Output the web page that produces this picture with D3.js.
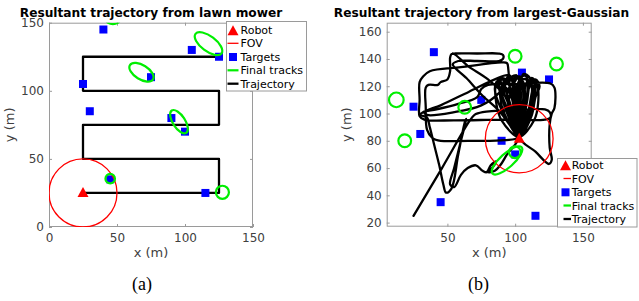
<!DOCTYPE html>
<html><head><meta charset="utf-8">
<script src="https://cdn.jsdelivr.net/npm/d3@7"></script>
<style>body{margin:0;background:#fff}svg{display:block}text{font-family:"DejaVu Sans",sans-serif}</style>
</head><body>
<svg id="c" width="639" height="301"></svg>
<script>
// ---------- data ----------
const targets = [[40,145],[105,130],[125,125],[75,110],[25,105],[30,85],[90,80],[100,70],[45,35],[115,25]];
const legendLabels = ["Robot","FOV","Targets","Final tracks","Trajectory"];
const leftTitle = "Resultant trajectory from lawn mower";
const rightTitle = "Resultant trajectory from largest-Gaussian";
const leftXTicks = [0,50,100,150];
const leftYTicks = [0,50,100,150];
const rightXTicks = [50,100,150];
const rightYTicks = [20,40,60,80,100,120,140,160];
const fovRadius = 25;

// (a) lawn mower
const lawnRobot = [25,25];
const lawnTrajectory = [[25,25],[125,25],[125,50],[25,50],[25,75],[125,75],[125,100],[25,100],[25,125],[125,125]];
// tracks: [cx, cy, semi-major, semi-minor, angle(deg)]
const lawnTracks = [[47,152,5,3,0],[117.3,134.6,12,5.5,-37],[68,113.6,10,5.2,-32],[95.6,77.3,9.8,4.5,-57],[45,35.5,3.5,3.5,0],[127.5,25.5,4.8,4.8,0]];

// (b) largest-Gaussian
const gaussRobot = [103,81.5];
const gaussTracks = [[100,142,4.7,4.7,0],[130.5,136.3,4.7,4.7,0],[12.3,110,5.4,5.4,0],[62.8,104.6,4.7,4.7,0],[18.5,80,4.7,4.7,0],[99.8,71.6,4.3,4.3,0],[94,65.6,14.5,5,42]];
const gaussTrajectory = [
 [25,25],[46,60],[66,94],[70,99],[76,101],
 [100,102.5],[122,103],[125.5,101],[126,97],[122,95.5],
 [90,95.5],[55,95],[33,95.5],[29.5,98],
 [29.5,110],[29.5,123],[32,127],[37,131],
 [60,134],[90,137.5],[94,137],[95,132],
 [96,120],[100,100],[103,83],
 [92,108],[88,120],[91,126],[95,122],[103,83],
 [98,110],[96,124],[101,128],[104,119],[103,83],
 [107,105],[108,122],[113,125],[114,116],[103,83],
 [90,95],[86,108],[86,122],[90,126],[94,115],[103,83],
 [114,95],[117,108],[116,122],[112,126],[109,112],[103,83],
 [92,80.5],[65,80],[45,80],[39,82],[35,88],
 [34,105],[34,119],[36,121],[43,121],[45,123],[50,125],
 [52,131],[52,141],[53,143.5],[56,144],[72,144],[88,144],[91,143],[91,140],[88,138.5],[72,138.5],[58,138.5],[54,136],
 [64,126],[76,113],[88,102],[103,83],
 [94,104],[90,114],[87,123],[90,127],[93,118],[103,83],
 [95,98],[91,110],[92,122],[96,128],[99,118],[103,83],
 [100,106],[99,125],[104,127],[106,112],[103,83],
 [108,96],[112,110],[111,126],[106,129],[104,115],[103,83],
 [110,103],[113,118],[116,124],[117,118],[103,83],
 [115,72],[125,63],[127,66],[125.5,75],[125.5,92],[127,100],[129,104],[129,119],[126,122],
 [100,121.5],[80,121],[75,118],[72,112],
 [58,107],[42,103],[32,101],[30,99],[35,97],
 [37,90],[40,78],[44,62],[47,48],[49,42],[53,45],
 [58,70],[63,94],[64,96],
 [60,80],[55,60],[52,48],[55,46],
 [60,55],[65,60],[71,62],[76,58],[79,57],[82,62],[86,65],[83,60],[80,57],[85,58],[89,62],[94,70],[103,83],
 [96,105],[92,115],[93,125],[97,127],[100,115],[103,83],
 [98,95],[95,104],[97,116],[100,122],[102,108],[103,83],
 [104,108],[102,122],[107,128],[110,122],[103,83],
 [106,100],[109,115],[108,125],[104,124],[103,83],
 [99,120],[95,128],[85,125],[66,116],[45,106],[33,101],[35,99],[55,101],[75,106],[88,115],[95,125],[100,128],[106,123],[103,83],
 [92,100],[89,112],[90,120],[95,117],[103,83],
 [89,105],[85,118],[87,124],[92,120],[103,83],
 [112,98],[115,112],[118,120],[115,125],[110,118],[103,83],
 [101,104],[98,118],[102,126],[106,122],[103,83],
 [109,110],[111,124],[115,122],[113,110],[103,83],
 [97,100],[94,112],[97,121],[101,113],[103,83],
 [95,110],[80,125],[65,135],[56,143],[54,144]
];

// ---------- drawing ----------
const svg = d3.select("#c");
const RED="#ff0000", BLUE="#0000ff", GREEN="#00ee00", BOX="#9a9a9a", TXT="#404040";

function panel(cfg){
  const x = d3.scaleLinear(cfg.xd,[cfg.l,cfg.r]);
  const y = d3.scaleLinear(cfg.yd,[cfg.b,cfg.t]);
  const g = svg.append("g");
  const id = "clip"+cfg.key;
  svg.append("clipPath").attr("id",id).append("rect")
    .attr("x",cfg.l).attr("y",cfg.t).attr("width",cfg.r-cfg.l).attr("height",cfg.b-cfg.t);
  const ax = (gen, tr, ticks, lab) => {
    const a = g.append("g").attr("transform",tr).call(gen.tickValues(ticks).tickSizeInner(-3).tickSizeOuter(0).tickPadding(lab?6.5:5).tickFormat(lab?d3.format("d"):""));
    a.select(".domain").remove();
    a.selectAll("line").attr("stroke",BOX);
    a.selectAll("text").attr("fill",TXT).style("font-size","12px").style("font-family","DejaVu Sans");
    return a;
  };
  ax(d3.axisBottom(x),`translate(0,${cfg.b})`,cfg.xt,true);
  ax(d3.axisTop(x),`translate(0,${cfg.t})`,cfg.xt,false);
  const yl = ax(d3.axisLeft(y),`translate(${cfg.l},0)`,cfg.yt,true);
  yl.selectAll("text").attr("x",-5);
  ax(d3.axisRight(y),`translate(${cfg.r},0)`,cfg.yt,false);
  g.append("rect").attr("x",cfg.l+0.5).attr("y",cfg.t+0.5).attr("width",cfg.r-cfg.l-1).attr("height",cfg.b-cfg.t-1)
    .attr("fill","none").attr("stroke",BOX).attr("stroke-width",1);

  const p = g.append("g").attr("clip-path",`url(#${id})`);
  const drawTraj = () => p.append("path").datum(cfg.traj)
      .attr("d", d3.line().x(d=>x(d[0])).y(d=>y(d[1])).curve(cfg.curve))
      .attr("fill","none").attr("stroke","#000").attr("stroke-width",2.3)
      .attr("stroke-linejoin","round").attr("stroke-linecap","round");
  const drawTargets = () => p.selectAll(null).data(targets).join("rect")
      .attr("x",d=>x(d[0])-4).attr("y",d=>y(d[1])-4).attr("width",8).attr("height",8).attr("fill",BLUE);
  if(cfg.targetsFirst){ drawTargets(); drawTraj(); } else { drawTraj(); drawTargets(); }
  p.append("path").attr("d",tri(x(cfg.robot[0]),y(cfg.robot[1])-1,11,10)).attr("fill",RED);
  const kx = Math.abs(x(1)-x(0)), ky = Math.abs(y(1)-y(0));
  p.append("ellipse").attr("cx",x(cfg.robot[0])).attr("cy",y(cfg.robot[1]))
    .attr("rx",fovRadius*kx).attr("ry",fovRadius*ky).attr("fill","none").attr("stroke",RED).attr("stroke-width",1.3);
  p.selectAll(null).data(cfg.tracks).join("ellipse")
    .attr("cx",0).attr("cy",0).attr("rx",d=>d[2]*kx).attr("ry",d=>d[3]*ky)
    .attr("transform",d=>`translate(${x(d[0])},${y(d[1])}) rotate(${-d[4]})`)
    .attr("fill","none").attr("stroke",GREEN).attr("stroke-width",2.2);

  svg.append("text").attr("x",cfg.titleX).attr("y",17).attr("text-anchor","middle")
    .style("font-size","12.2px").style("font-weight","bold").attr("fill","#000").text(cfg.title);
  svg.append("text").attr("x",(cfg.l+cfg.r)/2).attr("y",257).attr("text-anchor","middle")
    .style("font-size","13px").attr("fill",TXT).text("x (m)");
  svg.append("text").attr("transform",`translate(${cfg.ylx},${(cfg.t+cfg.b)/2}) rotate(-90)`).attr("text-anchor","middle")
    .style("font-size","13px").attr("fill",TXT).text("y (m)");
  svg.append("text").attr("x",cfg.capX).attr("y",290).attr("text-anchor","middle")
    .style("font-family","'Liberation Serif','Times New Roman',serif").style("font-size","18px").attr("fill","#000").text(cfg.cap);

  const L = cfg.leg;
  const lg = svg.append("g");
  lg.append("rect").attr("x",L.x0+0.5).attr("y",L.y0+0.5).attr("width",L.x1-L.x0).attr("height",L.y1-L.y0)
    .attr("fill","#fff").attr("stroke",BOX);
  legendLabels.forEach((lab,i)=>{
    const yy = L.ys[i];
    if(i===0) lg.append("path").attr("d",tri(L.ic,yy,11,10)).attr("fill",RED);
    if(i===1) lg.append("line").attr("x1",L.la).attr("x2",L.lb).attr("y1",yy).attr("y2",yy).attr("stroke",RED).attr("stroke-width",1.3);
    if(i===2) lg.append("rect").attr("x",L.ic-4).attr("y",yy-4).attr("width",8).attr("height",8).attr("fill",BLUE);
    if(i===3) lg.append("line").attr("x1",L.la).attr("x2",L.lb).attr("y1",yy).attr("y2",yy).attr("stroke",GREEN).attr("stroke-width",2.2);
    if(i===4) lg.append("line").attr("x1",L.la).attr("x2",L.lb).attr("y1",yy).attr("y2",yy).attr("stroke","#000").attr("stroke-width",2.3);
    lg.append("text").attr("x",L.tx).attr("y",yy+4).style("font-size","11px").attr("fill","#000").text(lab);
  });
}
function tri(cx,cy,w,h){ return `M${cx-w/2},${cy+h/2}L${cx+w/2},${cy+h/2}L${cx},${cy-h/2}Z`; }

panel({key:"a", xd:[0,150], yd:[0,150], l:49, r:253, t:22.7, b:227, xt:leftXTicks, yt:leftYTicks,
  traj:lawnTrajectory, curve:d3.curveLinear, robot:lawnRobot, tracks:lawnTracks, targetsFirst:false,
  title:leftTitle, titleX:151, ylx:14, capX:142, cap:"(a)",
  leg:{x0:226,y0:21,x1:306,y1:90.5, ys:[30.3,43.3,57,70.3,83.7], ic:233, la:227.5, lb:238.5, tx:240.5}});
panel({key:"b", xd:[5.2,156.5], yd:[17,166.6], l:386.7, r:591.7, t:22.7, b:226.7, xt:rightXTicks, yt:rightYTicks,
  traj:gaussTrajectory, curve:d3.curveCatmullRom.alpha(0.5), robot:gaussRobot, tracks:gaussTracks, targetsFirst:true,
  title:rightTitle, titleX:481.5, ylx:351, capX:478.5, cap:"(b)",
  leg:{x0:557,y0:158,x1:636.5,y1:226.5, ys:[165.3,178.5,192.3,205.5,219], ic:565.5, la:563.5, lb:571, tx:571.7}});
</script>
</body></html>
